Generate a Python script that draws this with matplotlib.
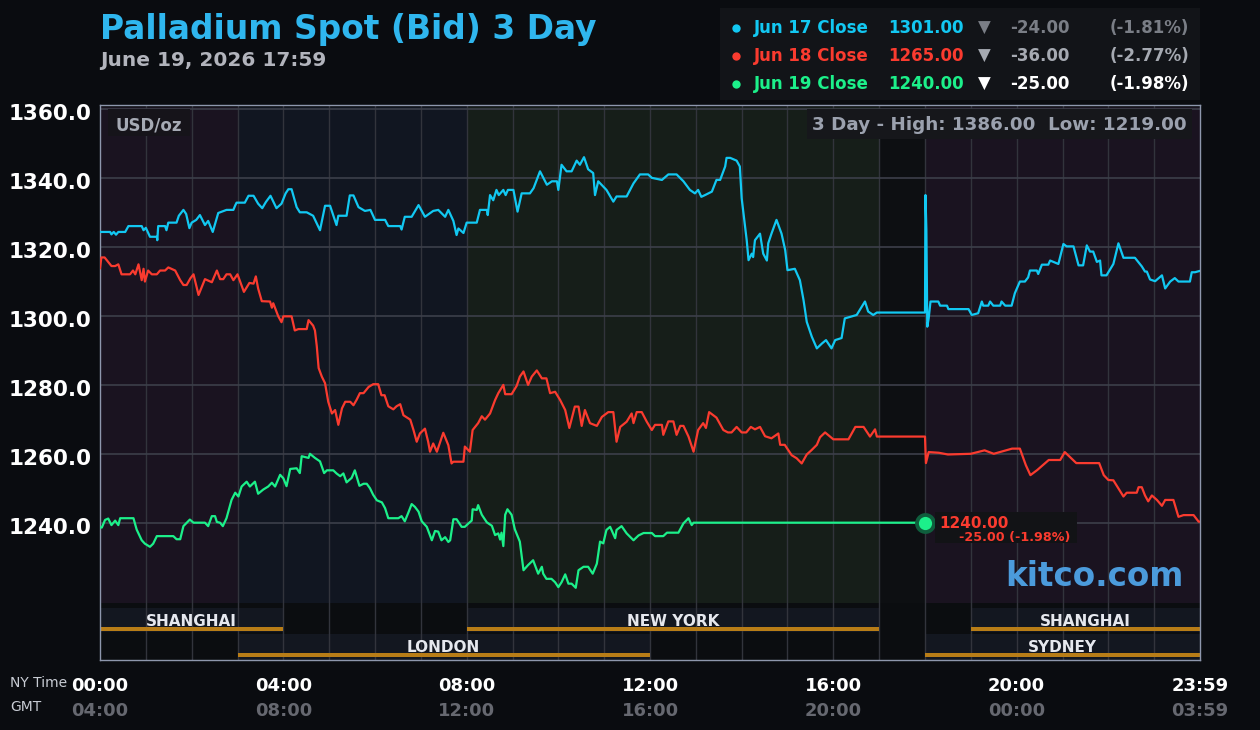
import matplotlib
matplotlib.use("Agg")
import matplotlib.pyplot as plt
import matplotlib.transforms as mtransforms
from matplotlib.patches import Rectangle
from matplotlib.lines import Line2D

plt.rcParams["font.family"] = "DejaVu Sans"
plt.rcParams["font.weight"] = "bold"

# prices (USD/oz) against NY time in hours
jun17_t = [0.0, 0.22, 0.25, 0.3, 0.35, 0.4, 0.55, 0.62, 0.91, 0.95, 1.0, 1.09, 1.24, 1.25, 1.27, 1.42, 1.45,
           1.49, 1.67, 1.72, 1.82, 1.88, 1.95, 2.0, 2.1, 2.18, 2.29, 2.36, 2.46, 2.58, 2.76, 2.91, 2.95, 2.98,
           3.16, 3.24, 3.35, 3.45, 3.54, 3.62, 3.72, 3.85, 3.96, 4.05, 4.11, 4.18, 4.29, 4.36, 4.51, 4.65, 4.8,
           4.91, 5.02, 5.16, 5.2, 5.38, 5.45, 5.53, 5.64, 5.78, 5.9, 6.0, 6.22, 6.29, 6.55, 6.58, 6.65, 6.8,
           6.95, 7.09, 7.27, 7.38, 7.53, 7.6, 7.71, 7.78, 7.82, 7.93, 8.0, 8.22, 8.29, 8.44, 8.46, 8.51, 8.58,
           8.65, 8.7, 8.8, 8.85, 8.9, 9.02, 9.11, 9.2, 9.38, 9.46, 9.6, 9.75, 9.86, 9.97, 10.0, 10.07, 10.18,
           10.29, 10.4, 10.47, 10.56, 10.65, 10.76, 10.8, 10.87, 11.05, 11.2, 11.27, 11.49, 11.64, 11.78,
           11.96, 12.04, 12.26, 12.4, 12.58, 12.73, 12.87, 12.98, 13.05, 13.12, 13.2, 13.35, 13.45, 13.53,
           13.64, 13.67, 13.75, 13.89, 13.96, 14.0, 14.04, 14.11, 14.15, 14.22, 14.25, 14.29, 14.4, 14.47,
           14.55, 14.58, 14.65, 14.76, 14.87, 14.95, 15.0, 15.16, 15.27, 15.35, 15.42, 15.53, 15.64, 15.75,
           15.84, 15.96, 16.04, 16.18, 16.25, 16.51, 16.58, 16.69, 16.76, 16.87, 16.95, 18.0, 18.01, 18.03,
           18.05, 18.08, 18.12, 18.29, 18.33, 18.48, 18.51, 18.95, 19.02, 19.16, 19.24, 19.27, 19.38, 19.42,
           19.49, 19.64, 19.67, 19.75, 19.89, 19.96, 20.07, 20.18, 20.25, 20.29, 20.44, 20.47, 20.55, 20.69,
           20.73, 20.91, 21.02, 21.09, 21.24, 21.35, 21.45, 21.53, 21.6, 21.67, 21.75, 21.82, 21.85, 21.96,
           22.11, 22.22, 22.33, 22.58, 22.73, 22.8, 22.84, 22.91, 23.02, 23.17, 23.24, 23.35, 23.45, 23.53,
           23.78, 23.82, 23.89, 24.0]
jun17_v = [1324.4, 1324.4, 1323.7, 1324.4, 1323.6, 1324.4, 1324.4, 1326.1, 1326.1, 1324.9, 1325.6, 1323.0,
           1323.0, 1322.0, 1326.1, 1326.1, 1324.9, 1327.1, 1327.1, 1329.1, 1330.8, 1329.6, 1325.5, 1327.1,
           1327.9, 1329.3, 1326.4, 1327.6, 1324.4, 1329.9, 1330.8, 1330.8, 1332.1, 1332.9, 1332.9, 1334.9,
           1334.9, 1332.6, 1331.3, 1333.1, 1334.9, 1331.3, 1332.6, 1335.6, 1336.8, 1336.8, 1331.6, 1330.1,
           1330.1, 1329.1, 1324.9, 1332.0, 1332.0, 1326.4, 1329.1, 1329.1, 1335.0, 1335.0, 1331.6, 1330.5,
           1330.8, 1327.9, 1327.9, 1326.1, 1326.1, 1325.1, 1328.8, 1328.8, 1332.2, 1328.8, 1330.5, 1330.8,
           1328.8, 1330.8, 1327.6, 1323.5, 1325.4, 1324.1, 1327.1, 1327.1, 1330.8, 1330.8, 1329.3, 1335.1,
           1333.6, 1336.6, 1335.1, 1336.6, 1335.1, 1336.6, 1336.6, 1330.3, 1335.6, 1335.6, 1337.1, 1342.0,
           1338.1, 1339.1, 1339.1, 1336.6, 1343.9, 1342.0, 1342.0, 1345.1, 1343.9, 1346.1, 1342.6, 1341.5,
           1335.1, 1339.1, 1336.6, 1333.2, 1334.7, 1334.7, 1338.5, 1341.1, 1341.1, 1340.1, 1339.5, 1341.1,
           1341.1, 1339.1, 1336.6, 1335.6, 1336.6, 1334.6, 1335.1, 1336.1, 1339.5, 1339.5, 1343.4, 1345.9,
           1345.9, 1345.1, 1343.4, 1334.2, 1329.8, 1322.0, 1316.2, 1318.1, 1317.1, 1322.0, 1323.9, 1318.1,
           1316.1, 1321.1, 1323.9, 1327.9, 1323.9, 1319.1, 1313.3, 1313.7, 1310.4, 1304.6, 1298.3, 1294.0,
           1290.6, 1292.0, 1293.0, 1290.6, 1293.0, 1293.6, 1299.3, 1300.3, 1301.8, 1304.2, 1301.3, 1300.3,
           1301.0, 1301.0, 1335.1, 1325.1, 1296.9, 1299.3, 1304.2, 1304.2, 1303.0, 1303.0, 1302.0, 1302.0,
           1300.3, 1300.8, 1304.2, 1303.0, 1303.0, 1304.2, 1303.0, 1303.0, 1304.2, 1303.0, 1303.0, 1306.6,
           1310.0, 1310.0, 1311.2, 1313.2, 1313.2, 1312.2, 1314.9, 1314.9, 1316.1, 1315.1, 1320.9, 1320.2,
           1320.2, 1314.7, 1314.7, 1320.5, 1318.7, 1318.7, 1315.7, 1316.1, 1311.8, 1311.8, 1315.1, 1321.1,
           1316.9, 1316.9, 1314.4, 1312.9, 1312.9, 1310.6, 1310.1, 1311.8, 1308.0, 1310.0, 1311.0, 1310.0,
           1310.0, 1312.7, 1312.7, 1313.1]

jun18_t = [0.0, 0.03, 0.1, 0.25, 0.33, 0.4, 0.47, 0.655, 0.72, 0.77, 0.84, 0.91, 0.95, 0.98, 1.05, 1.13,
           1.24, 1.31, 1.42, 1.49, 1.64, 1.75, 1.82, 1.89, 1.97, 2.04, 2.15, 2.29, 2.44, 2.55, 2.62, 2.69,
           2.76, 2.84, 2.91, 3.0, 3.14, 3.26, 3.35, 3.4, 3.45, 3.53, 3.71, 3.75, 3.78, 3.89, 3.96, 4.0, 4.18,
           4.25, 4.33, 4.51, 4.55, 4.65, 4.69, 4.73, 4.77, 4.84, 4.91, 4.98, 5.06, 5.13, 5.2, 5.28, 5.35,
           5.46, 5.53, 5.6, 5.67, 5.75, 5.86, 5.96, 6.07, 6.14, 6.21, 6.29, 6.4, 6.47, 6.55, 6.62, 6.77,
           6.84, 6.91, 6.98, 7.09, 7.16, 7.2, 7.27, 7.35, 7.49, 7.6, 7.67, 7.71, 7.93, 7.96, 8.07, 8.13,
           8.25, 8.33, 8.4, 8.51, 8.62, 8.69, 8.8, 8.84, 8.98, 9.09, 9.16, 9.24, 9.34, 9.42, 9.53, 9.64,
           9.74, 9.82, 9.93, 10.04, 10.15, 10.24, 10.36, 10.44, 10.51, 10.58, 10.69, 10.84, 10.95, 11.09,
           11.2, 11.27, 11.35, 11.49, 11.6, 11.64, 11.71, 11.82, 11.93, 12.04, 12.11, 12.26, 12.29, 12.4,
           12.51, 12.58, 12.66, 12.73, 12.84, 12.95, 13.05, 13.16, 13.22, 13.29, 13.45, 13.6, 13.7, 13.78,
           13.89, 14.0, 14.1, 14.2, 14.29, 14.4, 14.51, 14.65, 14.8, 14.84, 14.94, 15.09, 15.2, 15.31,
           15.42, 15.52, 15.64, 15.71, 15.82, 16.0, 16.33, 16.48, 16.66, 16.8, 16.91, 16.95, 18.0, 18.02,
           18.08, 18.3, 18.5, 19.0, 19.3, 19.5, 19.9, 20.07, 20.2, 20.3, 20.45, 20.7, 20.95, 21.05, 21.3,
           21.8, 21.9, 22.0, 22.11, 22.33, 22.4, 22.62, 22.66, 22.73, 22.8, 22.87, 22.95, 23.06, 23.17,
           23.24, 23.42, 23.53, 23.64, 23.86, 23.97, 24.0]
jun18_v = [1313.9, 1317.0, 1317.0, 1314.5, 1314.5, 1315.0, 1312.1, 1312.1, 1313.2, 1312.1, 1315.0, 1310.4,
           1313.7, 1310.0, 1313.2, 1312.1, 1312.1, 1313.2, 1313.2, 1314.1, 1313.2, 1310.4, 1309.0, 1309.0,
           1310.9, 1312.1, 1306.1, 1310.7, 1309.8, 1313.2, 1310.7, 1310.7, 1312.1, 1312.1, 1310.4, 1312.1,
           1307.0, 1309.6, 1309.4, 1311.5, 1308.0, 1304.3, 1304.2, 1302.4, 1303.7, 1299.9, 1298.2, 1299.9,
           1299.9, 1295.8, 1296.2, 1296.2, 1298.8, 1297.2, 1295.8, 1291.2, 1284.9, 1282.4, 1280.5, 1275.1,
           1271.7, 1272.7, 1268.4, 1273.2, 1275.1, 1275.1, 1274.1, 1275.7, 1277.6, 1277.6, 1279.4, 1280.2,
           1280.2, 1277.0, 1277.0, 1273.8, 1272.9, 1273.8, 1274.4, 1271.2, 1269.9, 1266.9, 1263.5, 1265.9,
           1267.3, 1263.5, 1260.6, 1263.0, 1260.6, 1266.1, 1262.5, 1257.2, 1257.7, 1257.7, 1262.1, 1260.6,
           1266.9, 1268.9, 1270.9, 1269.9, 1271.7, 1275.6, 1277.6, 1280.0, 1277.3, 1277.3, 1279.7, 1282.4,
           1283.9, 1280.0, 1282.4, 1284.2, 1281.9, 1281.9, 1277.6, 1278.0, 1275.6, 1272.7, 1267.5, 1273.7,
           1273.7, 1268.1, 1272.7, 1268.9, 1268.1, 1270.7, 1272.1, 1272.1, 1263.5, 1267.8, 1269.3, 1271.7,
           1268.9, 1272.1, 1272.1, 1269.3, 1266.9, 1268.4, 1268.4, 1265.5, 1269.4, 1269.4, 1265.5, 1268.1,
           1268.1, 1265.0, 1260.6, 1266.9, 1268.9, 1267.5, 1272.1, 1270.5, 1266.9, 1266.2, 1266.2, 1267.8,
           1266.2, 1266.2, 1267.8, 1267.1, 1267.8, 1265.1, 1264.5, 1265.9, 1262.6, 1262.6, 1259.6, 1258.7,
           1257.2, 1259.8, 1261.0, 1262.6, 1264.8, 1266.2, 1264.2, 1264.2, 1267.8, 1267.8, 1265.0, 1267.1,
           1265.0, 1265.0, 1257.3, 1260.5, 1260.3, 1259.8, 1260.0, 1261.0, 1260.0, 1261.5, 1261.5, 1256.7,
           1253.8, 1255.3, 1258.2, 1258.2, 1260.5, 1257.3, 1257.3, 1253.8, 1252.4, 1252.3, 1247.6, 1248.7,
           1248.7, 1250.3, 1250.3, 1247.9, 1246.2, 1247.9, 1246.6, 1244.9, 1246.6, 1246.6, 1241.7, 1242.2,
           1242.2, 1240.3, 1240.3]

jun19_t = [0.0, 0.04, 0.11, 0.18, 0.25, 0.33, 0.4, 0.44, 0.73, 0.8, 0.91, 0.98, 1.09, 1.16, 1.24, 1.6,
           1.67, 1.75, 1.82, 1.96, 2.04, 2.29, 2.36, 2.44, 2.51, 2.55, 2.62, 2.68, 2.76, 2.87, 2.95, 3.02,
           3.09, 3.2, 3.27, 3.38, 3.45, 3.56, 3.67, 3.75, 3.82, 3.93, 4.0, 4.07, 4.15, 4.29, 4.36, 4.4, 4.55,
           4.58, 4.69, 4.8, 4.89, 4.95, 5.09, 5.16, 5.24, 5.31, 5.38, 5.49, 5.56, 5.66, 5.75, 5.82, 5.89,
           5.96, 6.04, 6.15, 6.22, 6.29, 6.51, 6.58, 6.65, 6.73, 6.8, 6.87, 6.95, 7.02, 7.13, 7.24, 7.31,
           7.38, 7.45, 7.53, 7.6, 7.64, 7.71, 7.78, 7.89, 7.96, 8.04, 8.11, 8.13, 8.22, 8.25, 8.33, 8.44,
           8.55, 8.62, 8.69, 8.73, 8.76, 8.8, 8.84, 8.89, 8.98, 9.05, 9.16, 9.24, 9.34, 9.45, 9.56, 9.64,
           9.67, 9.74, 9.85, 9.93, 10.0, 10.07, 10.15, 10.22, 10.29, 10.38, 10.44, 10.55, 10.65, 10.75,
           10.84, 10.91, 10.98, 11.05, 11.13, 11.24, 11.27, 11.38, 11.49, 11.64, 11.75, 11.86, 12.04, 12.11,
           12.29, 12.37, 12.62, 12.73, 12.84, 12.91, 12.95, 18.0]
jun19_v = [1238.6, 1238.6, 1240.8, 1241.2, 1239.3, 1240.6, 1239.3, 1241.3, 1241.3, 1238.0, 1234.9, 1233.9,
           1233.0, 1233.9, 1236.1, 1236.1, 1235.2, 1235.2, 1239.0, 1240.9, 1240.0, 1240.0, 1239.0, 1241.9,
           1241.9, 1240.2, 1240.0, 1239.0, 1241.3, 1246.6, 1248.7, 1247.6, 1250.5, 1251.9, 1250.5, 1251.9,
           1248.4, 1249.6, 1250.5, 1251.6, 1250.5, 1253.9, 1252.9, 1250.6, 1255.6, 1255.8, 1254.4, 1259.3,
           1258.8, 1260.0, 1258.8, 1257.8, 1254.4, 1255.2, 1255.2, 1254.3, 1253.5, 1254.3, 1251.7, 1253.0,
           1255.2, 1250.7, 1251.3, 1251.3, 1250.0, 1248.1, 1246.5, 1245.9, 1244.2, 1241.3, 1241.3, 1241.9,
           1240.4, 1243.0, 1245.4, 1244.6, 1243.2, 1240.4, 1238.8, 1234.9, 1237.6, 1237.4, 1234.9, 1235.8,
           1234.4, 1234.9, 1241.0, 1241.0, 1238.8, 1238.8, 1239.8, 1240.6, 1243.9, 1243.7, 1245.1, 1242.3,
           1240.1, 1239.1, 1236.4, 1236.9, 1235.1, 1237.1, 1233.2, 1242.3, 1243.9, 1242.3, 1238.1, 1234.5,
           1226.2, 1227.7, 1229.1, 1225.2, 1227.2, 1225.2, 1223.7, 1223.7, 1222.7, 1221.3, 1222.7, 1225.0,
           1222.3, 1222.3, 1221.1, 1226.2, 1227.2, 1227.2, 1225.2, 1228.1, 1234.5, 1234.0, 1237.9, 1238.8,
           1235.5, 1237.9, 1239.0, 1236.9, 1234.9, 1236.3, 1237.0, 1237.0, 1236.1, 1236.1, 1237.1, 1237.1,
           1239.8, 1241.3, 1239.3, 1240.0, 1240.0]

series_labels = ["Jun 17 Close", "Jun 18 Close", "Jun 19 Close"]
closes = ["1301.00", "1265.00", "1240.00"]
changes = ["-24.00", "-36.00", "-25.00"]
changes_pct = ["(-1.81%)", "(-2.77%)", "(-1.98%)"]

# trading sessions (hours, NY time), row 0 = upper strip, row 1 = lower strip
session_names = ["SHANGHAI", "NEW YORK", "SHANGHAI", "LONDON", "SYDNEY"]
session_start = [0, 8, 19, 3, 18]
session_end = [4, 17, 24, 12, 24]
session_row = [0, 0, 0, 1, 1]

# background bands behind the price lines
zone_start = [0, 3, 8, 17, 18]
zone_end = [3, 8, 17, 18, 24]

ny_ticks = [0, 4, 8, 12, 16, 20, 24]
ny_labels = ["00:00", "04:00", "08:00", "12:00", "16:00", "20:00", "23:59"]
gmt_labels = ["04:00", "08:00", "12:00", "16:00", "20:00", "00:00", "03:59"]

# colours
bg = "#0a0c10"
cyan = "#12c8f2"
red = "#fa3b2f"
green = "#1cf08a"
zone_colors = ["#1a1320", "#111621", "#161e19", "#0d0f12", "#1a1320"]


def px(x):
    return x / 1260


def py(y):
    return 1 - y / 730


fig = plt.figure(figsize=(12.6, 7.3), dpi=100, facecolor=bg)
ax = fig.add_axes([px(100), py(660), px(1100), 555 / 730])
ax.set_facecolor("#0b0d10")
ax.set_xlim(0, 24)
ax.set_ylim(1200.14, 1361.25)

for s, e, c in zip(zone_start, zone_end, zone_colors):
    ax.axvspan(s, e, ymin=0.103, ymax=0.997, color=c, lw=0, zorder=0)

# session strips
for name, s, e, r in zip(session_names, session_start, session_end, session_row):
    lo, hi = (0.0505, 0.0937) if r == 0 else (0.0, 0.0468)
    olo, ohi = (0.0523, 0.0595) if r == 0 else (0.0054, 0.0126)
    ax.axvspan(s, e, ymin=lo, ymax=hi, color="#131720", lw=0, zorder=0.5)
    ax.axvspan(s, e, ymin=olo, ymax=ohi, color="#b87d17", lw=0, zorder=2)
    ty = 0.070 if r == 0 else 0.023
    ax.text((s + e) / 2, ty, name, transform=ax.get_xaxis_transform(), ha="center", va="center",
            fontsize=11, color="#e6e8ee", zorder=3)

# grid
for h in range(1, 24):
    ax.axvline(h, color="#32343c", lw=1.0, zorder=1)
for v in range(1240, 1361, 20):
    ax.axhline(v, color="#3c3f4a", lw=1.2, zorder=1)

ax.plot(jun18_t, jun18_v, color=red, lw=1.6, zorder=4)
ax.plot(jun19_t, jun19_v, color=green, lw=1.6, zorder=4)
ax.plot(jun17_t, jun17_v, color=cyan, lw=1.6, zorder=4)

# last-price marker
ax.plot(jun19_t[-1], jun19_v[-1], "o", ms=15, color="#0f5e3d", mec="none", zorder=5)
ax.plot(jun19_t[-1], jun19_v[-1], "o", ms=9.5, color=green, mec="none", zorder=6)

for sp in ax.spines.values():
    sp.set_color("#8e97ad")
    sp.set_linewidth(1.0)

ax.set_yticks(range(1240, 1361, 20))
ax.set_yticklabels([f"{v:.1f}" for v in range(1240, 1361, 20)], fontsize=15.5, color="white")
ax.tick_params(axis="y", length=0, pad=6)
shift = mtransforms.ScaledTranslation(0, -3 / 100, fig.dpi_scale_trans)
for lab in ax.get_yticklabels():
    lab.set_transform(lab.get_transform() + shift)
ax.set_xticks([])

# time axis labels
tr = mtransforms.blended_transform_factory(ax.transData, fig.transFigure)
for h, a, b in zip(ny_ticks, ny_labels, gmt_labels):
    ax.text(h, py(686), a, transform=tr, ha="center", va="center", fontsize=13, color="white", clip_on=False)
    ax.text(h, py(711), b, transform=tr, ha="center", va="center", fontsize=13, color="#666870", clip_on=False)
fig.text(px(10), py(683), "NY Time", fontsize=10, fontweight="normal", color="#c8ccd4", va="center")
fig.text(px(10), py(707), "GMT", fontsize=10, fontweight="normal", color="#c8ccd4", va="center")

# header
fig.text(px(100), py(30), "Palladium Spot (Bid) 3 Day", fontsize=23.7, color="#2fb6ee", va="center")
fig.text(px(100), py(60), "June 19, 2026 17:59", fontsize=14.5, color="#b2b4bc", va="center")

fig.add_artist(Rectangle((px(720), py(100)), px(480), 92 / 730, transform=fig.transFigure,
                         color="#121418", lw=0))
row_colors = [cyan, red, green]
delta_colors = ["#7a7e86", "#a6aab2", "#ffffff"]
for i in range(3):
    y = py(28 + 28 * i)
    fig.add_artist(Line2D([px(736)], [y], marker="o", ms=6, color=row_colors[i], mec="none",
                          transform=fig.transFigure))
    fig.text(px(754), y, series_labels[i], fontsize=12, color=row_colors[i], va="center")
    fig.text(px(888), y, closes[i], fontsize=12, color=row_colors[i], va="center")
    fig.text(px(984), y, "\u25bc", fontsize=12, color=delta_colors[i], va="center", ha="center")
    fig.text(px(1010), y, changes[i], fontsize=12, color=delta_colors[i], va="center")
    fig.text(px(1189), y, changes_pct[i], fontsize=12, color=delta_colors[i], va="center", ha="right")

# in-chart boxes
fig.add_artist(Rectangle((px(108), py(136)), px(82), 27 / 730, transform=fig.transFigure,
                         color="#16141a", lw=0))
fig.text(px(149), py(125), "USD/oz", fontsize=12, color="#a6aab4", ha="center", va="center")
fig.add_artist(Rectangle((px(807), py(139)), px(385), 30 / 730, transform=fig.transFigure,
                         color="#16171b", lw=0))
fig.text(px(999), py(125), "3 Day - High: 1386.00  Low: 1219.00", fontsize=13.2, color="#9ba1ae",
         ha="center", va="center")

fig.add_artist(Rectangle((px(935), py(543)), px(142), 31 / 730, transform=fig.transFigure,
                         color="#121316", lw=0))
fig.text(px(939), py(523), "1240.00", fontsize=11, color=red, va="center")
fig.text(px(959), py(537), "-25.00 (-1.98%)", fontsize=9.2, color=red, va="center")

fig.text(px(1094), py(577), "kitco.com", fontsize=23.5, color="#4b9bdc", ha="center", va="center")

fig.savefig("out.png", dpi=100, facecolor=bg)
